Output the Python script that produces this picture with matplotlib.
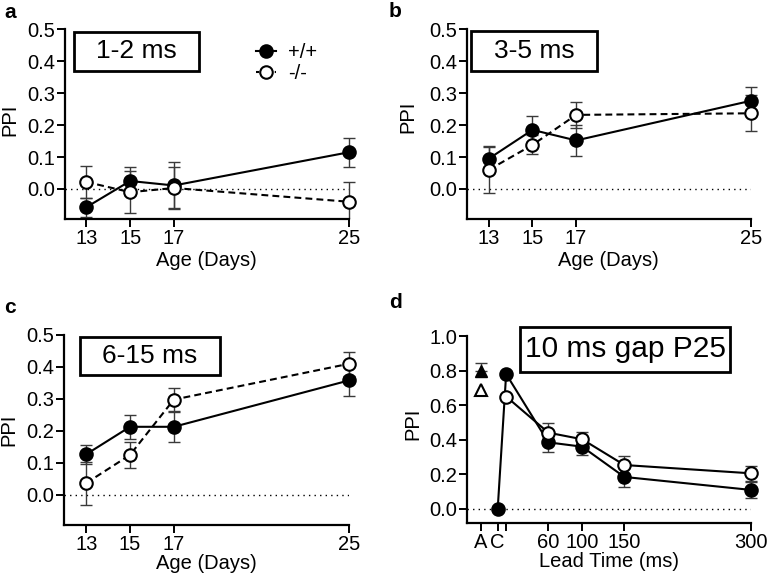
import numpy as np
import matplotlib
matplotlib.use("Agg")
import matplotlib.pyplot as plt
from matplotlib.lines import Line2D
from matplotlib.patches import Rectangle

plt.rcParams["font.family"] = ["Liberation Sans", "DejaVu Sans"]
plt.rcParams["font.size"] = 14.5

# ==============================
# DATA
# ==============================
ages = [13, 15, 17, 25]

# panel a: 1-2 ms
a_wt = [-0.057, 0.025, 0.011, 0.115]
a_wt_err = [0.030, 0.045, 0.072, 0.045]
a_ko = [0.022, -0.010, 0.003, -0.040]
a_ko_err = [0.050, 0.065, 0.066, 0.062]

# panel b: 3-5 ms
b_wt = [0.095, 0.185, 0.152, 0.276]
b_wt_err = [0.040, 0.042, 0.048, 0.044]
b_ko = [0.060, 0.138, 0.232, 0.237]
b_ko_err = [0.073, 0.030, 0.040, 0.057]

# panel c: 6-15 ms
c_wt = [0.127, 0.213, 0.213, 0.358]
c_wt_err = [0.030, 0.037, 0.046, 0.050]
c_ko = [0.037, 0.125, 0.298, 0.410]
c_ko_err = [0.067, 0.042, 0.035, 0.037]

# panel d: 10 ms gap P25, lead time
lead_pos = [-20, 0, 10, 60, 100, 150, 300]
lead_labels = ["A", "C", "", "60", "100", "150", "300"]
d_wt_x = [0, 10, 60, 100, 150, 300]
d_wt = [0.0, 0.780, 0.385, 0.360, 0.185, 0.110]
d_wt_err = [0.0, 0.0, 0.055, 0.048, 0.060, 0.045]
d_ko_x = [10, 60, 100, 150, 300]
d_ko = [0.650, 0.441, 0.403, 0.254, 0.206]
d_ko_err = [0.0, 0.055, 0.040, 0.050, 0.045]
# startle-only reference (A)
d_a_wt, d_a_wt_err = 0.800, 0.042
d_a_ko = 0.690

titles = ["1-2 ms", "3-5 ms", "6-15 ms", "10 ms gap P25"]

# ==============================
# LAYOUT
# ==============================
W, H = 767, 582
fig = plt.figure(figsize=(W / 100, H / 100), dpi=100)


def add_ax(x0, x1, y0, y1):
    return fig.add_axes([x0 / W, 1 - y1 / H, (x1 - x0) / W, (y1 - y0) / H])


ax_a = add_ax(64.5, 349, 29.3, 219)
ax_b = add_ax(467, 750.7, 29.3, 219)
ax_c = add_ax(64.3, 349, 335, 525)
ax_d = add_ax(467.3, 751, 336, 523.3)

ECOL = "#3a3a3a"
MS = 9


def style(ax):
    for s in ["top", "right"]:
        ax.spines[s].set_visible(False)
    for s in ["left", "bottom"]:
        ax.spines[s].set_linewidth(1.6)
    ax.tick_params(direction="out", length=5.5, width=1.4, pad=1.5)
    ax.axhline(0, color="black", lw=1, ls=(0, (1, 3)), zorder=1)


def series(ax, x, y, err, filled, ls):
    eb = ax.errorbar(x, y, yerr=err, fmt="none", ecolor=ECOL, elinewidth=1.0,
                     capsize=4.5, capthick=1.0, zorder=2)
    # clip at the bottom spine but let caps at the right edge show
    clip = Rectangle((-0.1, 0), 1.2, 1.2, transform=ax.transAxes, fill=False, visible=False)
    ax.add_patch(clip)
    for art in eb.lines[1] + eb.lines[2]:
        art.set_clip_path(clip)
    ax.plot(x, y, color="black", lw=1.5, ls=ls, marker="o", ms=MS,
            mfc="black" if filled else "white", mec="black", mew=1.5,
            zorder=4 if not filled else 3, clip_on=False)


def title_box(ax, x0, x1, y0, y1, text, fs=19):
    ax.add_patch(Rectangle((x0, y0), x1 - x0, y1 - y0, transform=ax.transAxes,
                           fc="white", ec="black", lw=2, clip_on=False, zorder=5))
    ax.text((x0 + x1) / 2, (y0 + y1) / 2, text, transform=ax.transAxes,
            ha="center", va="center", fontsize=fs, zorder=6)


dash = (0, (3.3, 2))
age_panels = [(ax_a, a_wt, a_wt_err, a_ko, a_ko_err),
              (ax_b, b_wt, b_wt_err, b_ko, b_ko_err),
              (ax_c, c_wt, c_wt_err, c_ko, c_ko_err)]

for ax, wt, wte, ko, koe in age_panels:
    style(ax)
    series(ax, ages, wt, wte, True, "-")
    series(ax, ages, ko, koe, False, dash)
    ax.set_xlim(12, 25)
    ax.set_ylim(-0.094, 0.5)
    ax.set_xticks(ages)
    ax.set_yticks(np.arange(0, 0.51, 0.1))
    ax.set_yticklabels([f"{v:.1f}" for v in np.arange(0, 0.51, 0.1)])
    ax.set_ylabel("PPI")

ax_a.set_xlabel("Age (Days)", labelpad=2)
ax_b.set_xlabel("Age (Days)", labelpad=2)
ax_c.set_xlabel("Age (Days)", labelpad=0)
ax_a.yaxis.set_label_coords(-0.160, 0.525)
ax_b.yaxis.set_label_coords(-0.176, 0.54)
ax_c.yaxis.set_label_coords(-0.160, 0.50)

title_box(ax_a, 0.033, 0.473, 0.780, 0.986, titles[0])
title_box(ax_b, 0.014, 0.458, 0.780, 0.991, titles[1])
title_box(ax_c, 0.055, 0.547, 0.789, 0.989, titles[2])

# legend in panel a
handles = [
    Line2D([], [], color="black", lw=1.5, marker="o", ms=MS, mfc="black", mec="black", mew=1.5),
    Line2D([], [], color="black", lw=1.5, ls=(0, (1.5, 1.5)), marker="o", ms=MS,
           mfc="white", mec="black", mew=1.5),
]
ax_a.legend(handles, ["+/+", "-/-"], loc="center left", bbox_to_anchor=(0.672, 0.822),
            frameon=False, handlelength=1.0, handletextpad=0.6, labelspacing=0.1,
            borderpad=0, borderaxespad=0, fontsize=14.5)

# panel d
style(ax_d)
ax_d.errorbar([lead_pos[0]], [d_a_wt], yerr=[[0], [d_a_wt_err]], fmt="none", ecolor=ECOL,
              elinewidth=1.0, capsize=4.5, capthick=1.0, zorder=2)
ax_d.plot([lead_pos[0]], [d_a_wt], marker="^", ms=9, mfc="black", mec="black", ls="none", zorder=3)
ax_d.plot([lead_pos[0]], [d_a_ko], marker="^", ms=9, mfc="white", mec="black", mew=1.5,
          ls="none", zorder=3)
series(ax_d, d_wt_x, d_wt, d_wt_err, True, "-")
series(ax_d, d_ko_x, d_ko, d_ko_err, False, "-")
ax_d.set_xlim(-36, 300)
ax_d.set_ylim(-0.083, 1.0)
ax_d.set_xticks(lead_pos)
ax_d.set_xticklabels(lead_labels)
ax_d.set_yticks(np.arange(0, 1.01, 0.2))
ax_d.set_yticklabels([f"{v:.1f}" for v in np.arange(0, 1.01, 0.2)])
ax_d.set_xlabel("Lead Time (ms)", labelpad=0)
ax_d.set_ylabel("PPI")
ax_d.yaxis.set_label_coords(-0.160, 0.53)
title_box(ax_d, 0.186, 0.926, 0.808, 1.048, titles[3], fs=21.5)

# panel letters
for lab, x, y in [("a", 4, 18), ("b", 389, 17), ("c", 4, 313), ("d", 389, 308)]:
    fig.text(x / W, 1 - y / H, lab, fontsize=15, fontweight="bold", va="baseline", ha="left")

fig.savefig("out.png", dpi=100)
